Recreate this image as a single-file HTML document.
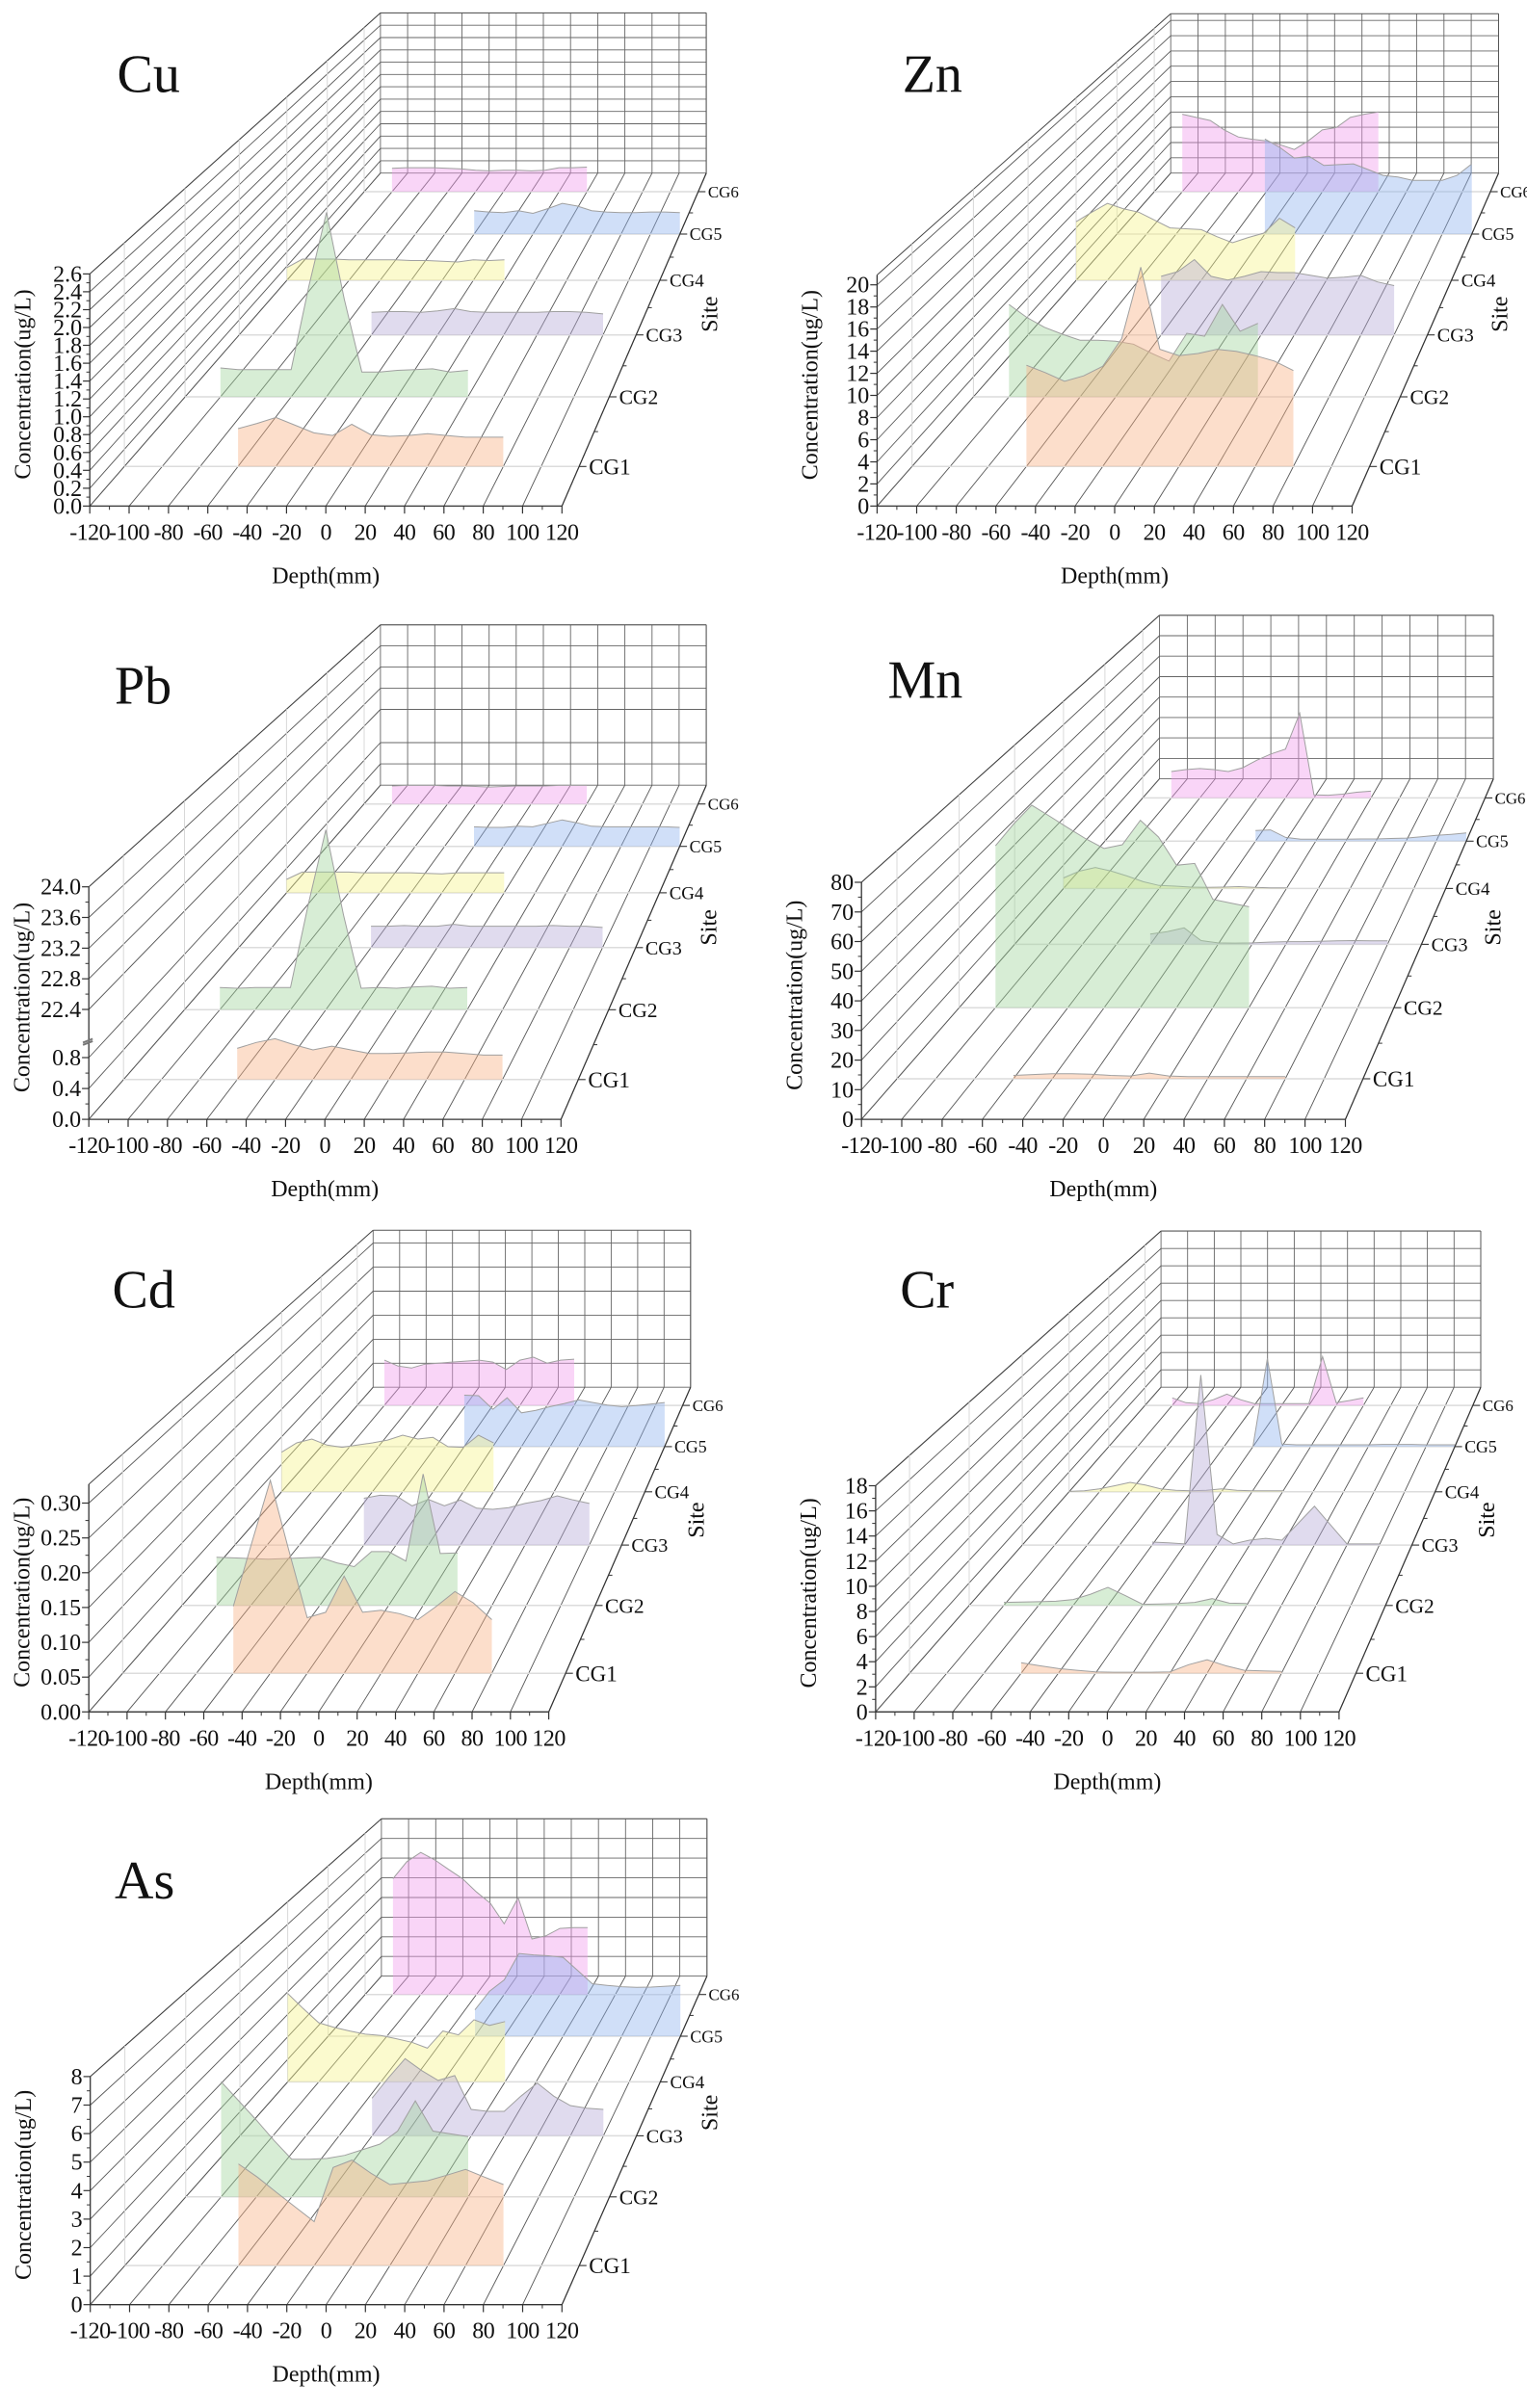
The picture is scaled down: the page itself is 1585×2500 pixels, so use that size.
<!DOCTYPE html>
<html>
<head>
<meta charset="utf-8">
<style>
html,body{margin:0;padding:0;background:#fff;}
#fig{display:block;}
text{font-family:"Liberation Serif","Times New Roman",serif;fill:#111;}
</style>
</head>
<body>
<svg id="fig" xmlns="http://www.w3.org/2000/svg" width="1585" height="2500" viewBox="0 0 1585 2500">
<rect x="0" y="0" width="1585" height="2500" fill="#fff"></rect>
</svg>
<script>
// ---------- shared categories ----------
const sites = ['CG1','CG2','CG3','CG4','CG5','CG6'];
const xTickLabels = [-120,-100,-80,-60,-40,-20,0,20,40,60,80,100,120];
const depthCG1 = [-60,-50,-40,-30,-20,-10,0,10,20,30,40,50,60,70,80];
const depthCG2 = [-100,-90,-80,-70,-60,-50,-40,-30,-20,-10,0,10,20,30,40];
const depthCG3 = [-40,-30,-20,-10,0,10,20,30,40,50,60,70,80,90,100];
const depthCG4 = [-120,-110,-100,-90,-80,-70,-60,-50,-40,-30,-20,-10,0,10,20];
const depthCG5 = [-20,-10,0,10,20,30,40,50,60,70,80,90,100,110,120];
const depthCG6 = [-100,-90,-80,-70,-60,-50,-40,-30,-20,-10,0,10,20,30,40];
const depths = [depthCG1,depthCG2,depthCG3,depthCG4,depthCG5,depthCG6];

// ---------- tick values ----------
const cuTicks = [0,0.2,0.4,0.6,0.8,1.0,1.2,1.4,1.6,1.8,2.0,2.2,2.4,2.6];
const znTicks = [0,2,4,6,8,10,12,14,16,18,20];
const pbTicks = [0,0.4,0.8,22.4,22.8,23.2,23.6,24.0];
const mnTicks = [0,10,20,30,40,50,60,70,80];
const cdTicks = [0,0.05,0.10,0.15,0.20,0.25,0.30];
const crTicks = [0,2,4,6,8,10,12,14,16,18];
const asTicks = [0,1,2,3,4,5,6,7,8];

// ---------- series values (CG1..CG6) ----------
const cuCG1 = [.44,.50,.57,.48,.39,.36,.49,.37,.35,.36,.38,.36,.34,.34,.34];
const cuCG2 = [.36,.34,.34,.34,.34,1.38,2.30,1.22,.31,.31,.33,.34,.35,.31,.33];
const cuCG3 = [.30,.31,.31,.30,.32,.35,.31,.30,.30,.30,.30,.31,.31,.30,.28];
const cuCG4 = [.18,.30,.30,.30,.29,.29,.29,.29,.28,.28,.27,.26,.29,.28,.29];
const cuCG5 = [.35,.33,.32,.35,.31,.38,.46,.42,.35,.33,.32,.32,.33,.33,.32];
const cuCG6 = [.37,.38,.38,.38,.37,.36,.34,.33,.34,.34,.33,.34,.38,.38,.39];

const znCG1 = [9.5,8.8,8.0,8.5,9.4,12.0,18.7,11.0,10.4,10.6,11.0,10.8,10.4,9.9,9.0];
const znCG2 = [9.3,8.0,7.0,6.3,5.7,5.7,5.6,5.3,4.4,3.6,6.4,6.1,9.3,6.6,7.4];
const znCG3 = [6.3,6.8,8.1,6.3,5.9,6.3,6.8,6.7,6.7,6.4,6.1,6.2,6.4,5.7,5.3];
const znCG4 = [6.7,7.8,8.8,8.2,7.8,6.9,6.0,5.9,5.8,5.0,4.3,4.9,5.4,7.1,6.0];
const znCG5 = [11.5,10.5,9.2,9.4,8.3,8.4,8.5,7.8,7.1,6.9,6.5,6.5,6.5,7.1,8.5];
const znCG6 = [9.9,9.5,9.1,7.9,7.0,6.7,6.5,6.0,5.4,6.5,7.9,8.2,9.5,9.9,10.2];

const pbCG1 = [.42,.50,.55,.47,.40,.45,.40,.35,.35,.36,.37,.37,.35,.33,.33];
const pbCG2 = [.32,.31,.32,.32,.32,22.49,23.58,19.4,.31,.32,.31,.33,.34,.31,.32];
const pbCG3 = [.33,.33,.34,.33,.33,.36,.33,.33,.33,.33,.33,.34,.33,.33,.31];
const pbCG4 = [.22,.34,.34,.34,.34,.33,.33,.33,.33,.32,.31,.33,.33,.33,.33];
const pbCG5 = [.34,.33,.33,.35,.34,.40,.46,.41,.35,.34,.34,.34,.34,.34,.33];
const pbCG6 = [.33,.34,.34,.34,.33,.33,.32,.31,.32,.33,.33,.33,.34,.34,.34];

const mnCG1 = [1.2,1.5,1.8,1.8,1.6,1.2,1.0,2.0,1.0,.8,.8,.8,.8,.8,.8];
const mnCG2 = [60.8,69.0,76.1,71.9,67.6,63.4,59.8,61.2,70.4,64.1,53.5,54.2,40.7,39.3,37.9];
const mnCG3 = [4.1,5.1,6.6,1.5,.6,.5,.6,.9,1.1,1.1,1.2,1.4,1.5,1.4,1.4];
const mnCG4 = [4.5,7.4,9.0,7.4,5.3,2.9,1.3,1.0,.6,.5,.6,.8,.5,.3,.3];
const mnCG5 = [4.8,5.1,1.7,.9,.9,.9,.9,1.0,1.0,1.2,1.4,2.0,2.6,3.1,3.7];
const mnCG6 = [12.6,13.5,14.0,13.5,12.6,14.4,18.0,21.0,23.3,40.4,1.4,1.3,1.8,2.7,3.2];

const cdCG1 = [.100,.195,.288,.184,.083,.091,.145,.091,.094,.089,.080,.100,.122,.105,.080];
const cdCG2 = [.077,.076,.075,.074,.075,.076,.077,.068,.062,.086,.086,.071,.210,.083,.084];
const cdCG3 = [.080,.085,.084,.067,.078,.067,.077,.063,.061,.064,.071,.076,.084,.077,.071];
const cdCG4 = [.072,.089,.096,.085,.081,.085,.089,.094,.103,.096,.099,.082,.081,.103,.089];
const cdCG5 = [.099,.098,.072,.094,.065,.070,.077,.083,.090,.085,.080,.077,.079,.082,.085];
const cdCG6 = [.092,.080,.076,.084,.086,.088,.090,.092,.088,.073,.092,.098,.086,.092,.094];

const crCG1 = [.87,.62,.40,.25,.12,.09,.09,.09,.12,.71,1.12,.62,.25,.19,.16];
const crCG2 = [.27,.30,.33,.37,.53,1.0,1.6,.87,.10,.13,.17,.27,.60,.20,.17];
const crCG3 = [.28,.21,.11,16.1,1.0,.11,.46,.64,.46,2.06,3.67,1.89,.11,.11,.11];
const crCG4 = [.04,.11,.30,.61,.95,.68,.30,.15,.11,.15,.30,.15,.11,.11,.11];
const crCG5 = [0,9.4,.28,.2,.2,.2,.2,.2,.2,.24,.24,.24,.2,.2,.2];
const crCG6 = [.85,.30,.21,.64,1.27,.64,.21,.21,.21,.21,.21,5.5,.30,.55,.85];

const asCG1 = [3.7,3.22,2.67,2.13,1.6,3.57,3.84,3.36,2.95,3.02,3.09,3.29,3.5,3.22,2.95];
const asCG2 = [4.5,3.75,3.0,2.2,1.47,1.47,1.5,1.62,1.84,2.06,2.57,3.75,2.57,2.46,2.35];
const asCG3 = [1.57,2.43,3.22,2.72,2.31,2.51,1.1,1.02,1.02,1.65,2.2,1.65,1.26,1.15,1.1];
const asCG4 = [3.93,3.26,2.63,2.42,2.26,2.12,2.06,1.92,1.76,1.5,2.26,2.09,2.76,2.51,2.68];
const asCG5 = [1.24,2.12,2.65,3.89,3.82,3.78,3.71,3.09,2.47,2.39,2.33,2.3,2.31,2.35,2.39];
const asCG6 = [5.75,6.59,7.05,6.68,6.21,5.75,5.09,4.53,3.51,4.81,2.76,2.91,3.28,3.32,3.32];

// ---------- layout ----------
const NS = 'http://www.w3.org/2000/svg';
const svg = document.getElementById('fig');
const KX = 1/1.975, KY = 1/2.56;
const siteF = [0.119,0.328,0.514,0.678,0.817,0.944];
const BACK = 0.69;
const fills = ['#f7b183','#9fd39a','#b5a9d6','#f6f38a','#8fb2ee','#f19ced'];

function lin(ppu){ return v => v*ppu; }
function pbScale(v){
  if (v <= 1) return v*205;
  if (v < 22.4) return 205 + (v-1)/21.4*87;
  return 292 + (v-22.4)*203.75;
}

const panels = [
 {key:'cu', title:'Cu', ox:0, oy:0, fx:184, fy:1345, fw:968, bx:780, by:460, axTop:617, vs:lin(617/2.6), ticks:cuTicks, dec:1, series:[cuCG1,cuCG2,cuCG3,cuCG4,cuCG5,cuCG6], tx:240, ty:245},
 {key:'zn', title:'Zn', ox:800, oy:0, fx:218, fy:1345, fw:974, bx:820, by:460, axTop:614, vs:lin(29.4), ticks:znTicks, dec:0, series:[znCG1,znCG2,znCG3,znCG4,znCG5,znCG6], tx:270, ty:245},
 {key:'pb', title:'Pb', ox:0, oy:625, fx:182, fy:1375, fw:968, bx:780, by:487, axTop:618, vs:pbScale, ticks:pbTicks, dec:1, brk:true, series:[pbCG1,pbCG2,pbCG3,pbCG4,pbCG5,pbCG6], tx:235, ty:270},
 {key:'mn', title:'Mn', ox:800, oy:625, fx:186, fy:1375, fw:992, bx:797, by:470, axTop:630, vs:lin(7.875), ticks:mnTicks, dec:0, series:[mnCG1,mnCG2,mnCG3,mnCG4,mnCG5,mnCG6], tx:240, ty:255},
 {key:'cd', title:'Cd', ox:0, oy:1250, fx:182, fy:1350, fw:943, bx:765, by:487, axTop:605, vs:lin(1850), ticks:cdTicks, dec:2, series:[cdCG1,cdCG2,cdCG3,cdCG4,cdCG5,cdCG6], tx:230, ty:275},
 {key:'cr', title:'Cr', ox:800, oy:1250, fx:215, fy:1350, fw:950, bx:800, by:487, axTop:602, vs:lin(33.4), ticks:crTicks, dec:0, series:[crCG1,crCG2,crCG3,crCG4,crCG5,crCG6], tx:265, ty:275},
 {key:'as', title:'As', ox:0, oy:1870, fx:185, fy:1338, fw:967, bx:782, by:465, axTop:606, vs:lin(75.75), ticks:asTicks, dec:0, series:[asCG1,asCG2,asCG3,asCG4,asCG5,asCG6], tx:235, ty:258}
];

function mk(tag, attrs, parent){
  const e = document.createElementNS(NS, tag);
  for (const k in attrs) e.setAttribute(k, attrs[k]);
  (parent || svg).appendChild(e);
  return e;
}

function drawPanel(p){
  const g = mk('g', {});
  
  
  const R = (zx, zy) => [p.ox + zx*KX, p.oy + zy*KY];
  const L = (a, b, stroke, w, name, parent) => {
    const A = R(a[0], a[1]), B = R(b[0], b[1]);
    const e = mk('line', {x1:A[0].toFixed(1), y1:A[1].toFixed(1), x2:B[0].toFixed(1), y2:B[1].toFixed(1), stroke:stroke, 'stroke-width':w}, parent || g);
    
    
    return e;
  };
  const bw = p.fw*BACK, bh = p.axTop*BACK;
  const siteGeom = f => ({x0: p.fx + (p.bx-p.fx)*f, y: p.fy + (p.by-p.fy)*f, s: 1 - 0.31*f});
  const xScale = (f, d) => { const G = siteGeom(f); return G.x0 + (d+120)/240*p.fw*G.s; };
  const yScale = (f, v) => { const G = siteGeom(f); return G.y - p.vs(v)*G.s; };

  // back wall grid
  for (let i = 0; i < xTickLabels.length; i++){
    const x = p.bx + (xTickLabels[i]+120)/240*bw;
    L([x, p.by], [x, p.by-bh], '#666', 0.9, 'back-wall-vertical-gridline');
  }
  p.ticks.forEach(v => {
    const y = p.by - p.vs(v)*BACK;
    L([p.bx, y], [p.bx+bw, y], '#666', 0.9, 'back-wall-horizontal-gridline');
  });
  L([p.bx, p.by-bh], [p.bx+bw, p.by-bh], '#555', 1, 'back-wall-top-edge');
  L([p.bx+bw, p.by], [p.bx+bw, p.by-bh], '#555', 1, 'back-wall-right-edge');

  // left wall diagonals
  p.ticks.forEach(v => {
    L([p.fx, p.fy - p.vs(v)], [p.bx, p.by - p.vs(v)*BACK], '#555', 0.9, 'left-wall-gridline');
  });
  L([p.fx, p.fy - p.axTop], [p.bx, p.by - bh], '#444', 1, 'left-wall-top-edge');
  siteF.forEach(f => {
    const G = siteGeom(f);
    L([G.x0, G.y], [G.x0, G.y - p.axTop*G.s], '#d8d8d8', 1, 'left-wall-site-line');
  });

  // floor diagonals
  for (let i = 0; i < xTickLabels.length; i++){
    const t = (xTickLabels[i]+120)/240;
    L([p.fx + t*p.fw, p.fy], [p.bx + t*bw, p.by], '#555', 0.9, 'floor-gridline');
  }
  siteF.forEach(f => {
    const G = siteGeom(f);
    L([G.x0, G.y], [G.x0 + p.fw*G.s, G.y], '#dcdcdc', 1.5, 'site-floor-line');
  });

  // areas from back to front
  for (let k = sites.length-1; k >= 0; k--){
    const f = siteF[k], d = depths[k], vals = p.series[k];
    const G = siteGeom(f);
    const pts = d.map((dv, i) => R(xScale(f, dv), yScale(f, vals[i])));
    const b0 = R(xScale(f, d[0]), G.y), b1 = R(xScale(f, d[d.length-1]), G.y);
    let path = 'M' + b0[0].toFixed(1) + ',' + b0[1].toFixed(1);
    pts.forEach(q => { path += ' L' + q[0].toFixed(1) + ',' + q[1].toFixed(1); });
    path += ' L' + b1[0].toFixed(1) + ',' + b1[1].toFixed(1) + ' Z';
    const area = mk('path', {d:path, fill:fills[k], 'fill-opacity':0.42, stroke:'none'}, g);
    
    
    const line = mk('polyline', {points: pts.map(q => q[0].toFixed(1)+','+q[1].toFixed(1)).join(' '), fill:'none', stroke:'#a0a0a0', 'stroke-width':1}, g);
    
    
  }

  // y axis
  L([p.fx, p.fy], [p.fx, p.fy - p.axTop], '#333', 1.3, 'y-axis-line');
  p.ticks.forEach((v, i) => {
    const y = p.fy - p.vs(v);
    L([p.fx-14, y], [p.fx, y], '#333', 1.2, 'y-axis-major-tick');
    if (i < p.ticks.length-1 && !(p.brk && i === 2)){
      const ym = p.fy - (p.vs(v) + p.vs(p.ticks[i+1]))/2;
      L([p.fx-7, ym], [p.fx, ym], '#333', 1, 'y-axis-minor-tick');
    }
    const P = R(p.fx-16, y);
    const t = mk('text', {x:P[0].toFixed(1), y:(P[1]+8).toFixed(1), 'font-size':24, 'text-anchor':'end'}, g);
    
    
    t.textContent = v.toFixed(p.dec);
  });
  if (p.brk){
    const yb = p.fy - 210;
    L([p.fx-12, yb+6], [p.fx+8, yb-4], '#777', 2, 'y-axis-break-mark');
    L([p.fx-12, yb+12], [p.fx+8, yb+2], '#777', 2, 'y-axis-break-mark');
  }
  const yt = R(p.fx-122, p.fy - p.axTop/2 - 15);
  const ytl = mk('text', {x:yt[0].toFixed(1), y:yt[1].toFixed(1), 'font-size':24, 'text-anchor':'middle', transform:'rotate(-90 '+yt[0].toFixed(1)+' '+yt[1].toFixed(1)+')'}, g);
  
  
  ytl.textContent = 'Concentration(ug/L)';

  // x axis
  L([p.fx, p.fy], [p.fx + p.fw, p.fy], '#333', 1.3, 'x-axis-line');
  xTickLabels.forEach((v, i) => {
    const x = p.fx + (v+120)/240*p.fw;
    L([x, p.fy], [x, p.fy+20], '#333', 1.2, 'x-axis-major-tick');
    if (i < xTickLabels.length-1){
      const xm = p.fx + (v+130)/240*p.fw;
      L([xm, p.fy], [xm, p.fy+10], '#333', 1, 'x-axis-minor-tick');
    }
    const P = R(x, p.fy);
    const t = mk('text', {x:P[0].toFixed(1), y:(P[1]+35).toFixed(1), 'font-size':24, 'text-anchor':'middle', 'letter-spacing':'-0.5'}, g);
    
    
    t.textContent = String(v);
  });
  const xt = R(p.fx + p.fw/2, p.fy);
  const xtl = mk('text', {x:xt[0].toFixed(1), y:(xt[1]+80).toFixed(1), 'font-size':24, 'text-anchor':'middle'}, g);
  
  
  xtl.textContent = 'Depth(mm)';

  // right depth edge with site ticks
  const rx0 = p.fx + p.fw, rx1 = p.bx + bw;
  L([rx0, p.fy], [rx1, p.by], '#333', 1.2, 'site-axis-line');
  const edge = f => [rx0 + (rx1-rx0)*f, p.fy + (p.by-p.fy)*f];
  siteF.forEach((f, k) => {
    const E = edge(f);
    L(E, [E[0]+15, E[1]], '#333', 1.1, 'site-axis-tick');
    if (k < siteF.length-1){
      const Em = edge((f + siteF[k+1])/2);
      L(Em, [Em[0]+8, Em[1]], '#333', 1, 'site-axis-minor-tick');
    }
    const P = R(E[0]+20, E[1]);
    const fs = 23*(1-0.31*f)/0.963;
    const t = mk('text', {x:P[0].toFixed(1), y:(P[1]+fs*0.35).toFixed(1), 'font-size':fs.toFixed(1)}, g);
    
    
    t.textContent = sites[k];
  });
  const st = R(rx0 + 318, p.fy - 510);
  const stl = mk('text', {x:st[0].toFixed(1), y:st[1].toFixed(1), 'font-size':24, 'text-anchor':'middle', transform:'rotate(-90 '+st[0].toFixed(1)+' '+st[1].toFixed(1)+')'}, g);
  
  
  stl.textContent = 'Site';

  // panel title
  const tp = R(p.tx, p.ty);
  const tt = mk('text', {x:tp[0].toFixed(1), y:tp[1].toFixed(1), 'font-size':56}, g);
  
  
  tt.textContent = p.title;
}

panels.forEach(drawPanel);
</script>
</body>
</html>
